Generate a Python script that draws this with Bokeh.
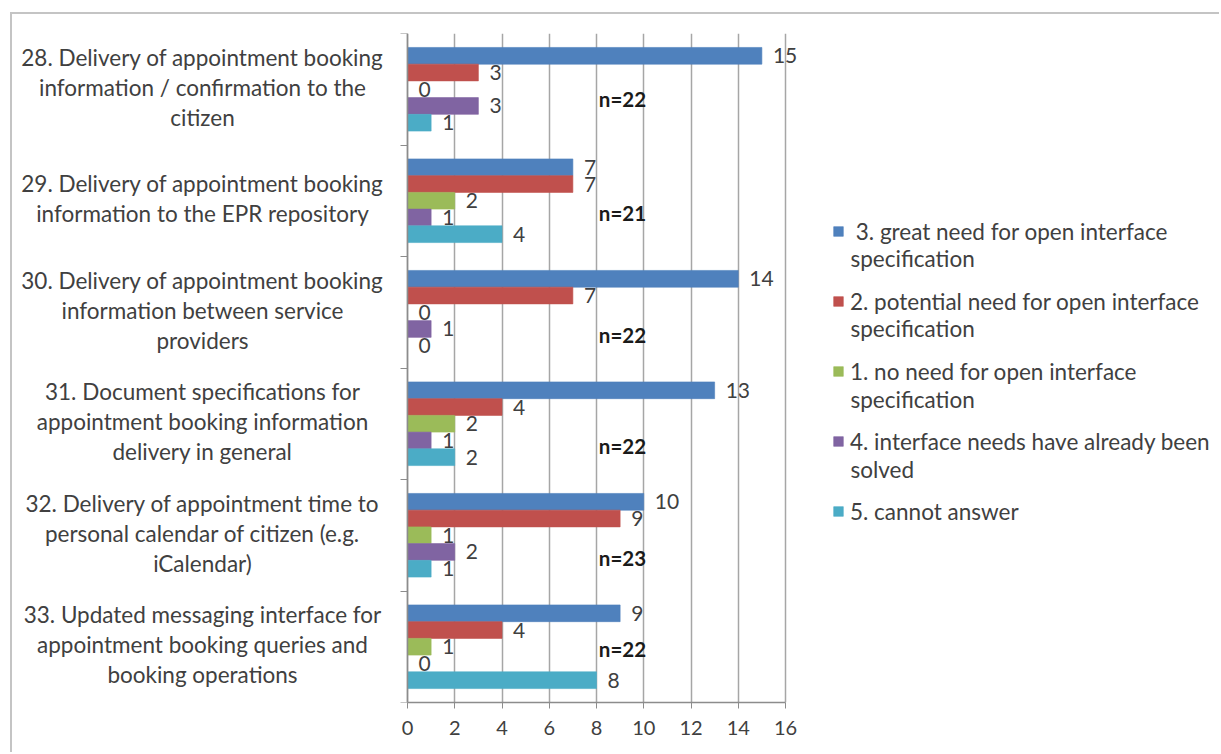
from bokeh.plotting import figure
from bokeh.models import (Label, LabelSet, Legend, LegendItem, ColumnDataSource,
                          FixedTicker, Range1d)
from bokeh.core.properties import value
from bokeh.embed import file_html
from bokeh.resources import INLINE

categories = [
    "28. Delivery of appointment booking\ninformation / confirmation to the\ncitizen",
    "29. Delivery of appointment booking\ninformation to the EPR repository",
    "30. Delivery of appointment booking\ninformation between service\nproviders",
    "31. Document specifications for\nappointment booking information\ndelivery in general",
    "32. Delivery of appointment time to\npersonal calendar of citizen (e.g.\niCalendar)",
    "33. Updated messaging interface for\nappointment booking queries and\nbooking operations",
]
series_first_lines = [
    " 3. great need for open interface",
    "2. potential need for open interface",
    "1. no need for open interface",
    "4. interface needs have already been",
    "5. cannot answer",
]
series_second_lines = ["specification", "specification", "specification", "solved", ""]
great_need = [15, 7, 14, 13, 10, 9]
potential_need = [3, 7, 7, 4, 9, 4]
no_need = [0, 2, 0, 2, 1, 1]
already_solved = [3, 1, 1, 1, 2, 0]
cannot_answer = [1, 4, 0, 2, 1, 8]
n_respondents = [22, 21, 22, 22, 23, 22]
x_ticks = [0, 2, 4, 6, 8, 10, 12, 14, 16]

series_values = [great_need, potential_need, no_need, already_solved, cannot_answer]
colors = ["#4F81BD", "#C0504D", "#9BBB59", "#8064A2", "#4BACC6"]
offsets = [0.3, 0.15, 0.0, -0.15, -0.3]
n_dy = [-0.09, -0.11, -0.2, -0.2, -0.2, -0.02]

FONT = "Lato"
TXT = "#404040"

ncat = len(categories)
centers = [ncat - i - 0.5 for i in range(ncat)]

# page geometry: canvas starts at page x=12, y=14; value 0 at x=407, 16 at x=785
CANVAS_X, CANVAS_Y, CANVAS_W, CANVAS_H = 12, 14, 1209, 740
PX = (785 - 407) / 16.0
X0 = -(407 - CANVAS_X) / PX
X1 = X0 + CANVAS_W / PX
FRAME_TOP, FRAME_BOTTOM = 33, 702
PY = (FRAME_BOTTOM - FRAME_TOP) / ncat


def dx(px):
    return (px - 407) / PX


def dy(py):
    return (FRAME_BOTTOM - py) / PY


p = figure(width=CANVAS_W, height=CANVAS_H, x_range=Range1d(X0, X1), y_range=Range1d(0, ncat),
           output_backend="svg", toolbar_location=None,
           min_border_left=0, min_border_right=0,
           min_border_top=FRAME_TOP - CANVAS_Y,
           min_border_bottom=CANVAS_Y + CANVAS_H - FRAME_BOTTOM)
p.styles = {"margin-left": "10px", "margin-top": "12px",
            "border-left": "2px solid #c4c4c4", "border-top": "2px solid #c4c4c4"}
p.outline_line_color = None
p.background_fill_color = "white"
p.border_fill_color = "white"

p.xgrid.ticker = FixedTicker(ticks=x_ticks)
p.xgrid.grid_line_color = "#a6a6a6"
p.xgrid.grid_line_width = 1.5
p.ygrid.grid_line_color = None

p.xaxis.ticker = FixedTicker(ticks=x_ticks)
p.xaxis.bounds = (0, 16)
p.xaxis.axis_line_color = "#8c8c8c"
p.xaxis.axis_line_width = 1.5
p.xaxis.major_tick_line_color = "#8c8c8c"
p.xaxis.major_tick_out = 6
p.xaxis.major_tick_in = 0
p.xaxis.minor_tick_line_color = None
p.xaxis.major_label_text_font = FONT
p.xaxis.major_label_text_font_size = "20px"
p.xaxis.major_label_text_color = TXT
p.xaxis.major_label_standoff = 12

p.yaxis.fixed_location = 0
p.yaxis.ticker = FixedTicker(ticks=list(range(ncat + 1)))
p.yaxis.axis_line_color = "#8c8c8c"
p.yaxis.axis_line_width = 1.5
p.yaxis.major_tick_line_color = "#8c8c8c"
p.yaxis.major_tick_out = 7
p.yaxis.major_tick_in = 0
p.yaxis.minor_tick_line_color = None
p.yaxis.major_label_text_font_size = "0px"
p.yaxis.major_label_text_color = None

renderers = []
for vals, col, off in zip(series_values, colors, offsets):
    ys = [c + off for c in centers]
    src = ColumnDataSource(dict(y=ys, right=vals, txt=[str(v) for v in vals]))
    r = p.hbar(y="y", left=0, right="right", height=0.15, source=src,
               fill_color=col, line_color=col, line_alpha=0.6)
    renderers.append(r)
    p.add_layout(LabelSet(x="right", y="y", text="txt", source=src, x_offset=11,
                          text_font=value(FONT), text_font_size="21px", text_color=TXT,
                          text_align="left", text_baseline="middle"))

for c, lab in zip(centers, categories):
    p.add_layout(Label(x=dx(202), y=c, y_offset=2, text=lab, text_font=FONT,
                       text_font_size="22.5px", text_color=TXT, text_align="center",
                       text_baseline="middle", text_line_height=1.11))

nsrc = ColumnDataSource(dict(x=[8.1] * ncat, y=[c + d for c, d in zip(centers, n_dy)],
                             txt=["n=%d" % n for n in n_respondents]))
p.add_layout(LabelSet(x="x", y="y", text="txt", source=nsrc, text_font=value(FONT),
                      text_font_size="20.5px", text_font_style="bold", text_color="#1a1a1a",
                      text_align="left", text_baseline="middle"))

legend = Legend(items=[LegendItem(label=n, renderers=[r])
                       for n, r in zip(series_first_lines, renderers)],
                location=(820, 177), border_line_color=None, background_fill_alpha=0,
                glyph_width=12, glyph_height=12, label_text_font=FONT,
                label_text_font_size="22.5px", label_text_color=TXT, label_standoff=6,
                label_height=28, spacing=42, padding=0, margin=0)
p.add_layout(legend)

first_line_y = [230, 300, 371, 441, 511]
for fy, second in zip(first_line_y, series_second_lines):
    if second:
        p.add_layout(Label(x=dx(850), y=dy(fy + 28), text=second, text_font=FONT,
                           text_font_size="22.5px", text_color=TXT, text_align="left",
                           text_baseline="middle"))

open("out.html", "w").write(file_html(p, INLINE))
